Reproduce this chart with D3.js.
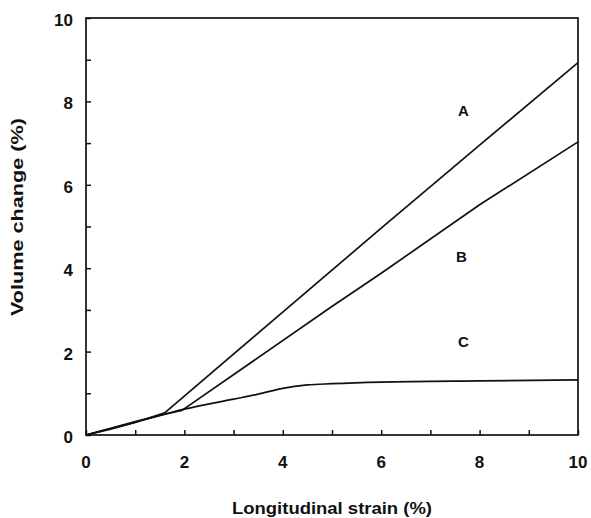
<!DOCTYPE html>
<html>
<head>
<meta charset="utf-8">
<script src="https://cdn.jsdelivr.net/npm/d3@7"></script>
<style>
  body { margin: 0; background: #fff; }
  svg { display: block; }
</style>
</head>
<body>
<svg id="chart" width="591" height="518"></svg>
<script>
// Volume change vs longitudinal strain, three specimens A, B, C
const strainA = [0, 0.5, 1.0, 1.6, 4.29, 6.0, 8.0, 10.0];
const volumeA = [0, 0.14, 0.30, 0.53, 3.24, 4.96, 6.95, 8.93];

const strainB = [0, 0.5, 1.0, 1.6, 1.95, 4.96, 6.0, 8.0, 10.0];
const volumeB = [0, 0.15, 0.31, 0.50, 0.59, 3.05, 3.88, 5.52, 7.03];

const strainC = [0, 0.5, 1.0, 1.6, 2.0, 3.0, 3.5, 4.0, 4.5, 5.0, 6.0, 8.0, 10.0];
const volumeC = [0, 0.16, 0.32, 0.50, 0.62, 0.86, 0.98, 1.12, 1.20, 1.23, 1.27, 1.30, 1.32];

const seriesNames = ["A", "B", "C"];
const labelStrain = [7.67, 7.63, 7.67];
const labelVolume = [7.78, 4.28, 2.23];

const xTicks = [0, 1, 2, 3, 4, 5, 6, 7, 8, 9, 10];
const yTicks = [0, 1, 2, 3, 4, 5, 6, 7, 8, 9, 10];
const xTickLabels = ["0", "2", "4", "6", "8", "10"];
const yTickLabels = ["0", "2", "4", "6", "8", "10"];

const svg = d3.select("#chart");
const font = "'Liberation Sans', Arial, Helvetica, sans-serif";

const x = d3.scaleLinear().domain([0, 10]).range([86, 578]);
const y = d3.scaleLinear().domain([0, 10]).range([435, 18]);

// frame
svg.append("rect")
  .attr("x", x(0)).attr("y", y(10))
  .attr("width", x(10) - x(0)).attr("height", y(0) - y(10))
  .attr("fill", "none").attr("stroke", "#111").attr("stroke-width", 1.7);

// inward ticks on bottom and left
const tickLen = 5;
const axisBottom = d3.axisBottom(x).tickValues(xTicks).tickSizeInner(-tickLen).tickSizeOuter(0).tickFormat("");
const axisLeft = d3.axisLeft(y).tickValues(yTicks).tickSizeInner(-tickLen).tickSizeOuter(0).tickFormat("");
svg.append("g").attr("transform", `translate(0,${y(0)})`).call(axisBottom)
  .call(g => g.select(".domain").remove())
  .call(g => g.selectAll(".tick line").attr("stroke", "#111").attr("stroke-width", 1.5));
svg.append("g").attr("transform", `translate(${x(0)},0)`).call(axisLeft)
  .call(g => g.select(".domain").remove())
  .call(g => g.selectAll(".tick line").attr("stroke", "#111").attr("stroke-width", 1.5));

// tick labels
svg.append("g").selectAll("text").data(xTickLabels).join("text")
  .attr("x", d => x(+d)).attr("y", 468)
  .attr("text-anchor", "middle")
  .attr("font-family", font).attr("font-size", 17).attr("font-weight", "bold")
  .attr("fill", "#111").text(d => d);

svg.append("g").selectAll("text").data(yTickLabels).join("text")
  .attr("x", 73).attr("y", d => y(+d) + 8)
  .attr("text-anchor", "end")
  .attr("font-family", font).attr("font-size", 17).attr("font-weight", "bold")
  .attr("fill", "#111").text(d => d);

// axis titles
svg.append("text")
  .attr("x", 332).attr("y", 514)
  .attr("text-anchor", "middle")
  .attr("font-family", font).attr("font-size", 16).attr("font-weight", "bold")
  .attr("textLength", 200).attr("lengthAdjust", "spacingAndGlyphs")
  .attr("fill", "#111").text("Longitudinal strain (%)");

svg.append("text")
  .attr("transform", "translate(23,217) rotate(-90)")
  .attr("text-anchor", "middle")
  .attr("font-family", font).attr("font-size", 17).attr("font-weight", "bold")
  .attr("textLength", 198).attr("lengthAdjust", "spacingAndGlyphs")
  .attr("fill", "#111").text("Volume change (%)");

// curves: A and B are straight after the knee, C bends smoothly
const lineStraight = d3.line().x(d => x(d[0])).y(d => y(d[1]));
const lineSmooth = d3.line().x(d => x(d[0])).y(d => y(d[1])).curve(d3.curveMonotoneX);
const series = [
  { pts: d3.zip(strainA, volumeA), gen: lineStraight },
  { pts: d3.zip(strainB, volumeB), gen: lineStraight },
  { pts: d3.zip(strainC, volumeC), gen: lineSmooth }
];
svg.append("g").selectAll("path").data(series).join("path")
  .attr("d", d => d.gen(d.pts))
  .attr("fill", "none").attr("stroke", "#111").attr("stroke-width", 1.7)
  .attr("stroke-linejoin", "round");

// curve labels
svg.append("g").selectAll("text").data(seriesNames).join("text")
  .attr("x", (d, i) => x(labelStrain[i])).attr("y", (d, i) => y(labelVolume[i]) + 5)
  .attr("text-anchor", "middle")
  .attr("font-family", font).attr("font-size", 15).attr("font-weight", "bold")
  .attr("fill", "#111").text(d => d);
</script>
</body>
</html>
